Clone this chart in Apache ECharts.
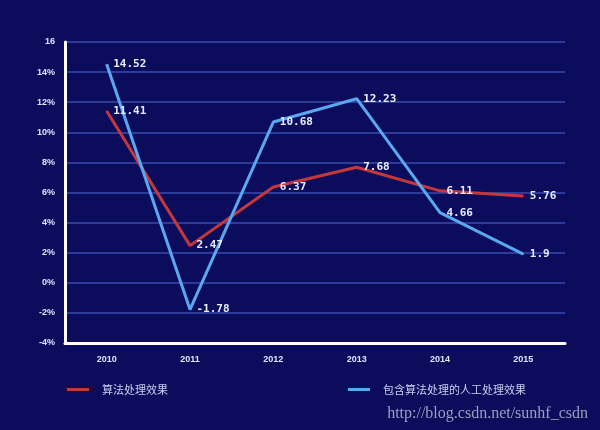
<!DOCTYPE html>
<html><head><meta charset="utf-8">
<script src="https://cdn.jsdelivr.net/npm/echarts@6/dist/echarts.min.js"></script>
<style>html,body{margin:0;padding:0;background:#0b0d5c}#c{width:600px;height:430px}</style>
</head><body><div id="c"></div>
<script>
var years = ['2010','2011','2012','2013','2014','2015'];
var algo = [11.41, 2.47, 6.37, 7.68, 6.11, 5.76];
var withHuman = [14.52, -1.78, 10.68, 12.23, 4.66, 1.9];
var names = ['算法处理效果','包含算法处理的人工处理效果'];
var chart = echarts.init(document.getElementById('c'));
var lbl = {show:true, position:'right', distance:6, color:'#e8ecff', fontSize:11, fontWeight:'bold', fontFamily:'DejaVu Sans Mono'};
chart.setOption({
  backgroundColor:'#0b0d5c',
  grid:{left:65,right:35,top:42,bottom:87},
  legend:{
    data:[{name:names[0]},{name:names[1]}],
    bottom:30, left:62, itemGap:180, itemWidth:22, itemHeight:3,
    icon:'rect',
    textStyle:{color:'#c8cdf0', fontSize:11, fontFamily:'Noto Sans CJK SC', padding:[0,0,0,8]}
  },
  graphic:[{type:'text', right:12, bottom:8, style:{text:'http://blog.csdn.net/sunhf_csdn', fill:'#9a9fbf', font:'16px "Liberation Serif"'}}],
  xAxis:{type:'category', data:years, boundaryGap:true,
    axisLine:{onZero:false, lineStyle:{color:'#ffffff', width:3}}, axisTick:{show:false},
    axisLabel:{color:'#dfe3ff', fontSize:9, fontWeight:'bold', margin:12}},
  yAxis:{type:'value', min:-4, max:16, interval:2,
    axisLine:{show:true, lineStyle:{color:'#ffffff', width:3}}, axisTick:{show:false},
    axisLabel:{color:'#dfe3ff', fontSize:9, fontWeight:'bold', margin:10,
      formatter:function(v){return v===16?'16':v+'%';}},
    splitLine:{lineStyle:{color:'#2c3a98', width:2}}},
  series:[
    {name:names[0], type:'line', data:algo, symbol:'circle', symbolSize:1, showSymbol:true, color:'#c4383a',
     lineStyle:{width:3, color:'#c4383a'}, label:lbl},
    {name:names[1], type:'line', data:withHuman, symbol:'circle', symbolSize:1, showSymbol:true, color:'#5aa8f0',
     lineStyle:{width:3, color:'#5aa8f0'}, label:lbl}
  ]
});
</script></body></html>
